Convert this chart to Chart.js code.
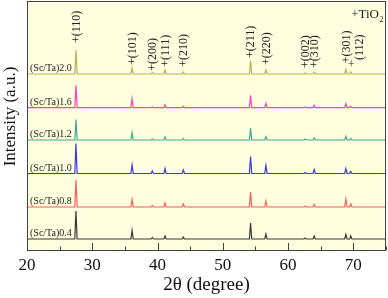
<!DOCTYPE html>
<html><head><meta charset="utf-8">
<script src="https://cdn.jsdelivr.net/npm/chart.js@4/dist/chart.umd.min.js"></script>
<style>html,body{margin:0;padding:0;background:#fff}canvas{display:block}</style>
</head><body>
<canvas id="c" width="388" height="298"></canvas>
<script>
// ---- data ----
const seriesNames = ['(Sc/Ta)0.4', '(Sc/Ta)0.8', '(Sc/Ta)1.0', '(Sc/Ta)1.2', '(Sc/Ta)1.6', '(Sc/Ta)2.0'];
const seriesOffsets = [11, 43, 76.5, 110, 142.3, 176];
const peakPositions = [27.5, 36.1, 39.2, 41.15, 43.95, 54.25, 56.6, 62.6, 64.0, 68.85, 69.6];
const peakLabels = ['+(110)', '+(101)', '+(200)', '+(111)', '+(210)', '+(211)', '+(220)', '+(002)', '+(310)', '+(301)', '+(112)'];
const heights04 = [28, 8.5, 1.5, 3, 2, 16, 5, 1, 3, 4.5, 3];
const heights08 = [27, 7.5, 1.5, 4, 3, 15, 6, 0.8, 2.5, 8, 3];
const heights10 = [30, 8.5, 2.5, 5, 3.5, 17, 8, 1, 4, 5, 2];
const heights12 = [20.5, 7.3, 1, 3, 1.5, 12, 3.3, 1, 2, 3.5, 1.5];
const heights16 = [22.5, 9, 1, 3, 1.5, 12.5, 4.3, 1, 2.5, 4, 1.5];
const heights20 = [24, 6, 1.5, 4, 2, 13, 4, 1, 2, 4.5, 2];
const xTickValues = [20, 30, 40, 50, 60, 70];
const xMinorTickValues = [25, 35, 45, 55, 65, 75];
const xRange = [20, 75];
const yRange = [0, 249];

// ---- style ----
const seriesColors = ['#3a3a3a', '#ff5a5a', '#3838f0', '#3fa890', '#ff3fc8', '#b4b450'];
const serif = "'Liberation Serif', 'Times New Roman', serif";
const annotBottomPx = [43, 65, 70.7, 66.7, 66.7, 58, 65, 68, 68, 63.3, 65];
const halfWidth = 0.18;

const allHeights = [heights04, heights08, heights10, heights12, heights16, heights20];

function buildSeries(base, heights) {
  const pts = [{x: xRange[0], y: base}];
  peakPositions.forEach((p, i) => {
    pts.push({x: p - halfWidth, y: base});
    pts.push({x: p, y: base + heights[i]});
    pts.push({x: p + halfWidth, y: base});
  });
  pts.push({x: xRange[1], y: base});
  return pts;
}

const datasets = seriesNames.map((n, i) => ({
  label: n,
  data: buildSeries(seriesOffsets[i], allHeights[i]),
  borderColor: seriesColors[i],
  borderWidth: 1.2,
  pointRadius: 0,
  tension: 0,
  fill: false
}));

const decor = {
  id: 'decor',
  beforeDraw(chart) {
    const {ctx, chartArea: a} = chart;
    ctx.save();
    ctx.fillStyle = '#ffffff';
    ctx.fillRect(0, 0, chart.width, chart.height);
    ctx.fillStyle = '#ffffe0';
    ctx.fillRect(a.left, a.top, a.right - a.left, a.bottom - a.top);
    ctx.restore();
  },
  afterDraw(chart) {
    const {ctx, chartArea: a, scales} = chart;
    const xs = scales.x, ys = scales.y;
    ctx.save();
    // frame
    ctx.strokeStyle = '#404040';
    ctx.lineWidth = 1;
    ctx.strokeRect(a.left + 0.5, a.top + 0.5, a.right - a.left - 1, a.bottom - a.top);
    // ticks inward
    ctx.beginPath();
    xTickValues.forEach(v => {
      const px = Math.round(xs.getPixelForValue(v)) + 0.5;
      ctx.moveTo(px, a.bottom); ctx.lineTo(px, a.bottom - 7);
    });
    xMinorTickValues.forEach(v => {
      const px = Math.round(xs.getPixelForValue(v)) + 0.5;
      ctx.moveTo(px, a.bottom); ctx.lineTo(px, a.bottom - 3.5);
    });
    ctx.stroke();
    // series labels
    ctx.fillStyle = '#222';
    ctx.font = '10px ' + serif;
    ctx.textAlign = 'left';
    ctx.textBaseline = 'middle';
    seriesNames.forEach((n, i) => {
      ctx.fillText(n, a.left + 3, ys.getPixelForValue(seriesOffsets[i]) - 5.5);
    });
    // hkl labels
    ctx.font = '12px ' + serif;
    peakLabels.forEach((lab, i) => {
      const px = xs.getPixelForValue(peakPositions[i]);
      const by = annotBottomPx[i];
      if (i === peakLabels.length - 1) {
        ctx.save();
        ctx.textAlign = 'center';
        ctx.fillText('+', px + 0.5, by);
        ctx.translate(px + 9, by - 5);
        ctx.rotate(-Math.PI / 2);
        ctx.textAlign = 'left';
        ctx.fillText(lab.slice(1), 0, 0);
        ctx.restore();
        return;
      }
      ctx.save();
      ctx.translate(px + 0.5, by);
      ctx.rotate(-Math.PI / 2);
      ctx.textAlign = 'left';
      ctx.fillText(lab, 0, 0);
      ctx.restore();
    });
    // TiO2 legend
    ctx.textAlign = 'right';
    ctx.textBaseline = 'alphabetic';
    ctx.font = '13px ' + serif;
    ctx.fillText('+TiO', 379, 18);
    ctx.font = '8px ' + serif;
    ctx.textAlign = 'left';
    ctx.fillText('2', 379.5, 22);
    // y title
    ctx.save();
    ctx.fillStyle = '#111';
    ctx.font = '17px ' + serif;
    ctx.translate(10.5, 116.5);
    ctx.rotate(-Math.PI / 2);
    ctx.textAlign = 'center';
    ctx.textBaseline = 'middle';
    ctx.fillText('Intensity (a.u.)', 0, 0);
    ctx.restore();
    ctx.restore();
  }
};

new Chart(document.getElementById('c'), {
  type: 'line',
  data: {datasets},
  options: {
    responsive: false,
    animation: false,
    devicePixelRatio: 1,
    layout: {padding: {left: 27, top: 1, right: 2, bottom: 0}},
    plugins: {legend: {display: false}, tooltip: {enabled: false}},
    scales: {
      x: {
        type: 'linear',
        min: xRange[0], max: xRange[1],
        afterBuildTicks: s => { s.ticks = xTickValues.map(v => ({value: v})); },
        afterFit: s => { s.height = 48; },
        border: {display: false},
        grid: {display: false, drawTicks: false},
        ticks: {color: '#111', font: {family: serif, size: 17}, padding: 5, maxRotation: 0},
        title: {display: true, text: '2θ (degree)', color: '#111', font: {family: serif, size: 19}, padding: {top: 0, bottom: 2}}
      },
      y: {
        type: 'linear', display: false,
        min: yRange[0], max: yRange[1]
      }
    }
  },
  plugins: [decor]
});
</script>
</body></html>
